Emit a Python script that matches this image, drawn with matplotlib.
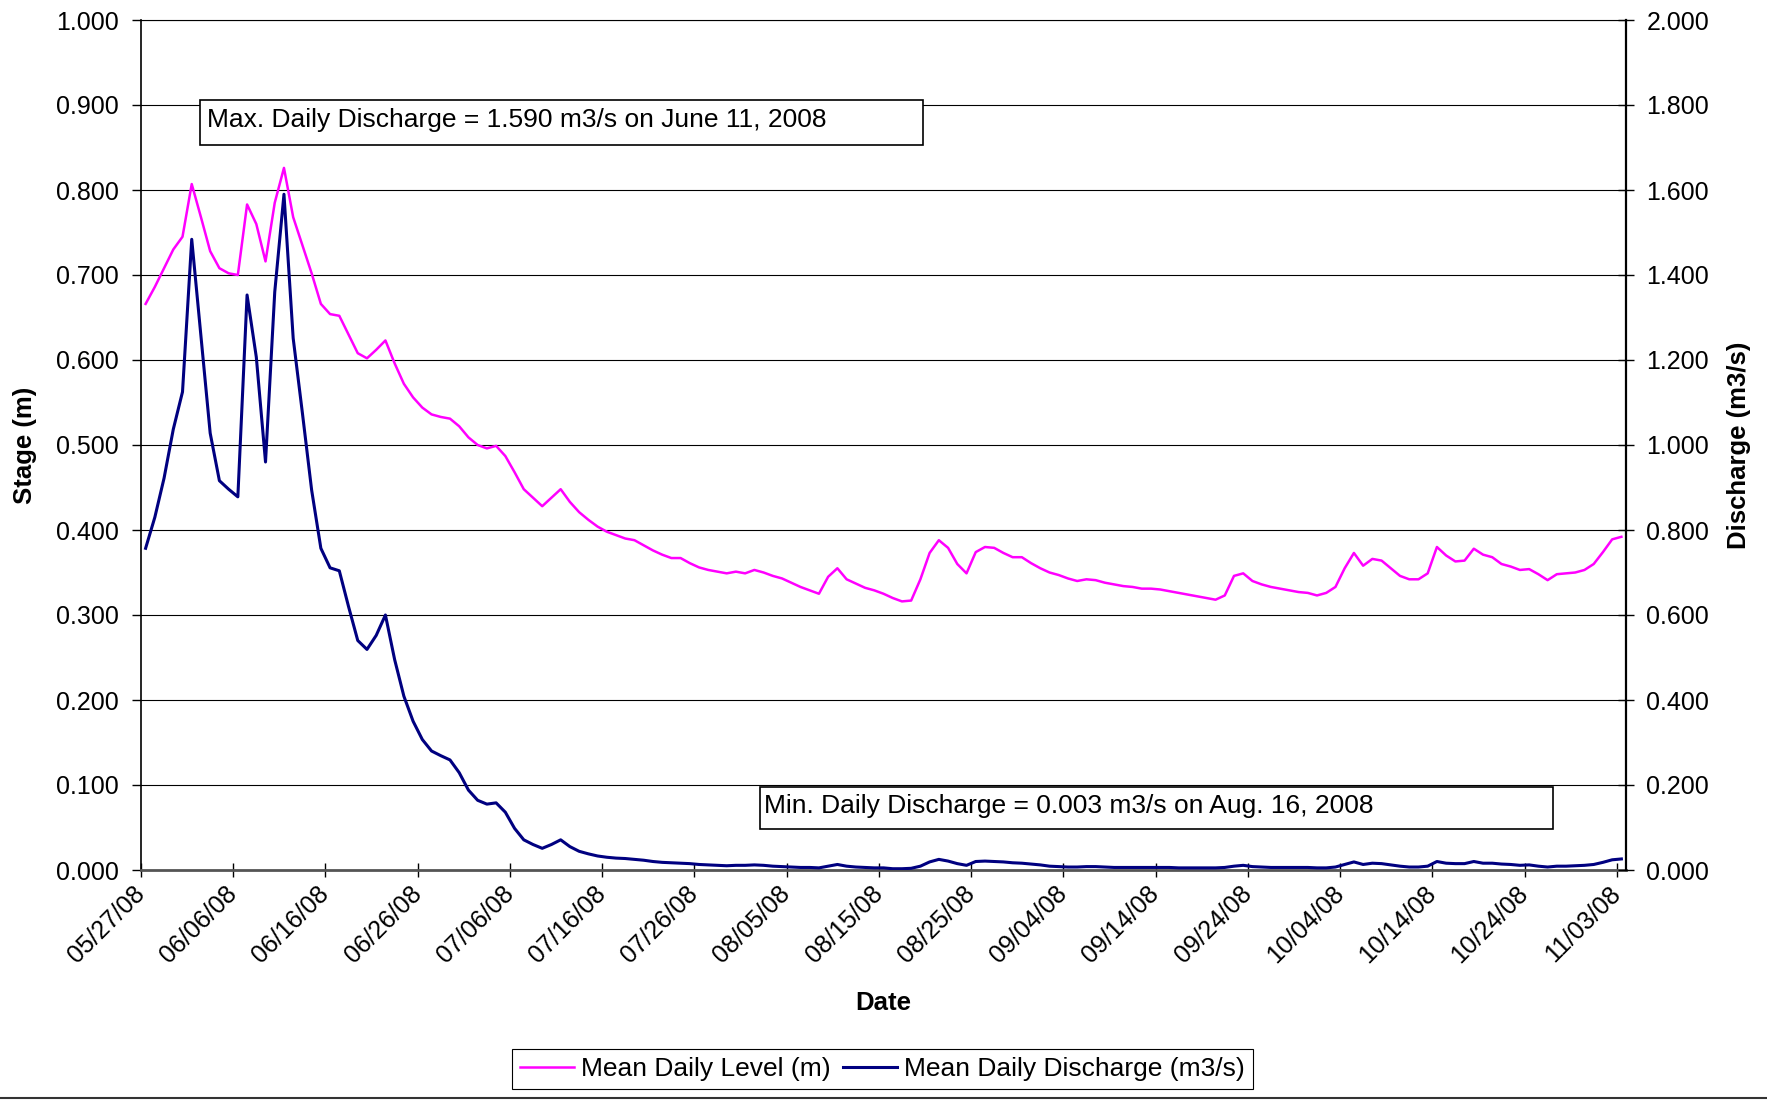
import numpy as np
import pandas as pd
import matplotlib
matplotlib.use("Agg")
import matplotlib.pyplot as plt
import matplotlib.dates as mdates
from matplotlib.ticker import FormatStrFormatter
from matplotlib.patches import Rectangle
from matplotlib.lines import Line2D

# ── style ──────────────────────────────────────────────────────────────────────
plt.rcParams.update({
    "font.family": ["Liberation Sans", "DejaVu Sans"],
    "font.size": 18,
    "xtick.labelsize": 18,
    "ytick.labelsize": 18,
})

LEVEL_COLOR = "#FF00FF"
FLOW_COLOR = "#000080"
W, H = 1767, 1100

# ── data (daily means, 2008-05-27 .. 2008-11-03) ──────────────────────────────
start_date = "2008-05-27"

stage_m = [
    0.666, 0.686, 0.708, 0.730, 0.745, 0.807, 0.768, 0.728, 0.708, 0.702,
    0.700, 0.783, 0.760, 0.716, 0.785, 0.826, 0.768, 0.735, 0.702, 0.666,
    0.654, 0.652, 0.630, 0.608, 0.602, 0.612, 0.623, 0.596, 0.572, 0.556,
    0.544, 0.536, 0.533, 0.531, 0.522, 0.509, 0.500, 0.496, 0.499, 0.487,
    0.468, 0.448, 0.438, 0.428, 0.438, 0.448, 0.433, 0.421, 0.412, 0.404,
    0.398, 0.394, 0.390, 0.388, 0.382, 0.376, 0.371, 0.367, 0.367, 0.361,
    0.356, 0.353, 0.351, 0.349, 0.351, 0.349, 0.353, 0.350, 0.346, 0.343,
    0.338, 0.333, 0.329, 0.325, 0.345, 0.355, 0.342, 0.337, 0.332, 0.329,
    0.325, 0.320, 0.316, 0.317, 0.342, 0.373, 0.388, 0.379, 0.360, 0.349,
    0.374, 0.380, 0.379, 0.373, 0.368, 0.368, 0.361, 0.355, 0.350, 0.347,
    0.343, 0.340, 0.342, 0.341, 0.338, 0.336, 0.334, 0.333, 0.331, 0.331,
    0.330, 0.328, 0.326, 0.324, 0.322, 0.320, 0.318, 0.323, 0.346, 0.349,
    0.340, 0.336, 0.333, 0.331, 0.329, 0.327, 0.326, 0.323, 0.326, 0.333,
    0.355, 0.373, 0.358, 0.366, 0.364, 0.355, 0.346, 0.342, 0.342, 0.349,
    0.380, 0.370, 0.363, 0.364, 0.378, 0.371, 0.368, 0.360, 0.357, 0.353,
    0.354, 0.348, 0.341, 0.348, 0.349, 0.350, 0.353, 0.360, 0.374, 0.389,
    0.392,
]

discharge_cms = [
    0.757, 0.830, 0.922, 1.037, 1.125, 1.484, 1.256, 1.028, 0.916, 0.896,
    0.878, 1.353, 1.207, 0.960, 1.360, 1.590, 1.251, 1.075, 0.894, 0.757,
    0.711, 0.704, 0.620, 0.540, 0.519, 0.552, 0.600, 0.495, 0.409, 0.350,
    0.307, 0.280, 0.269, 0.259, 0.229, 0.188, 0.164, 0.155, 0.158, 0.136,
    0.098, 0.071, 0.060, 0.051, 0.060, 0.071, 0.055, 0.044, 0.038, 0.033,
    0.030, 0.028, 0.027, 0.025, 0.023, 0.020, 0.018, 0.017, 0.016, 0.015,
    0.013, 0.012, 0.011, 0.010, 0.011, 0.011, 0.012, 0.011, 0.009, 0.008,
    0.007, 0.006, 0.006, 0.005, 0.009, 0.013, 0.009, 0.007, 0.006, 0.005,
    0.005, 0.003, 0.003, 0.004, 0.009, 0.019, 0.025, 0.021, 0.015, 0.011,
    0.020, 0.021, 0.020, 0.019, 0.017, 0.016, 0.014, 0.012, 0.009, 0.008,
    0.007, 0.007, 0.008, 0.008, 0.007, 0.006, 0.006, 0.006, 0.006, 0.006,
    0.006, 0.006, 0.005, 0.005, 0.005, 0.005, 0.005, 0.006, 0.009, 0.011,
    0.008, 0.007, 0.006, 0.006, 0.006, 0.006, 0.006, 0.005, 0.005, 0.007,
    0.013, 0.019, 0.013, 0.016, 0.015, 0.012, 0.009, 0.007, 0.007, 0.009,
    0.020, 0.016, 0.015, 0.015, 0.020, 0.016, 0.016, 0.014, 0.013, 0.011,
    0.012, 0.009, 0.007, 0.009, 0.009, 0.010, 0.011, 0.013, 0.018, 0.024,
    0.026,
]

tick_dates = pd.date_range("2008-05-27", "2008-11-03", freq="10D")
stage_ticks = np.linspace(0.0, 1.0, 11)
discharge_ticks = np.linspace(0.0, 2.0, 11)

max_note = "Max. Daily Discharge = 1.590 m3/s on June 11, 2008"
min_note = "Min. Daily Discharge = 0.003 m3/s on Aug. 16, 2008"

# daily means plotted at mid-day
days = pd.date_range(start_date, periods=len(stage_m), freq="D") + pd.Timedelta(hours=12)

# ── figure ─────────────────────────────────────────────────────────────────────
fig = plt.figure(figsize=(W / 100, H / 100), dpi=100)
ax = fig.add_axes([141 / W, 1 - 870 / H, 1485 / W, 850 / H])

l1, = ax.plot(days, stage_m, color=LEVEL_COLOR, linewidth=1.8, label="Mean Daily Level (m)")
ax2 = ax.twinx()
l2, = ax2.plot(days, discharge_cms, color=FLOW_COLOR, linewidth=2.2, label="Mean Daily Discharge (m3/s)")

ax.set_xlim(pd.Timestamp("2008-05-27"), pd.Timestamp("2008-11-04"))
ax.set_ylim(0, 1)
ax2.set_ylim(0, 2)

ax.set_yticks(stage_ticks)
ax.yaxis.set_major_formatter(FormatStrFormatter("%.3f"))
ax2.set_yticks(discharge_ticks)
ax2.yaxis.set_major_formatter(FormatStrFormatter("%.3f"))

ax.set_xticks(tick_dates)
ax.xaxis.set_major_formatter(mdates.DateFormatter("%m/%d/%y"))
for lab in ax.get_xticklabels():
    lab.set_rotation(45)
    lab.set_ha("right")
    lab.set_va("center")
    lab.set_rotation_mode("anchor")

ax.yaxis.grid(True, color="black", linewidth=0.8)
ax.set_axisbelow(True)

ax.tick_params(axis="y", direction="out", length=6.5, width=1, pad=9.5)
ax.tick_params(axis="x", direction="inout", length=10, width=1, pad=9.5)
ax2.tick_params(axis="y", direction="inout", length=11.5, width=1, pad=9)

ax.spines["left"].set_linewidth(1.2)
ax.spines["bottom"].set_linewidth(2.0)
ax.spines["bottom"].set_color("#555555")
ax.spines["top"].set_linewidth(0.8)
ax.spines["right"].set_visible(False)
for s in ["left", "bottom", "top"]:
    ax2.spines[s].set_visible(False)
ax2.spines["right"].set_linewidth(1.6)

# ── axis titles ────────────────────────────────────────────────────────────────
fig.text(25 / W, 1 - 445 / H, "Stage (m)", rotation=90, ha="center", va="center",
         fontweight="bold", fontsize=18.5)
fig.text(1739 / W, 1 - 445 / H, "Discharge (m3/s)", rotation=90, ha="center", va="center",
         fontweight="bold", fontsize=18.5)
fig.text(883 / W, 1 - 1003 / H, "Date", ha="center", va="center",
         fontweight="bold", fontsize=18.5)

# ── note boxes ─────────────────────────────────────────────────────────────────
ax2.add_patch(Rectangle((0.0394, 0.8535), 0.4869, 0.0518, transform=ax.transAxes,
                        facecolor="white", edgecolor="black", linewidth=1.2, zorder=5))
ax2.text(0.0442, 0.8745, max_note, transform=ax.transAxes, ha="left", va="baseline",
         fontsize=19, zorder=6)
ax2.add_patch(Rectangle((0.4168, 0.0482), 0.5340, 0.0500, transform=ax.transAxes,
                        facecolor="white", edgecolor="black", linewidth=1.2, zorder=5))
ax2.text(0.4195, 0.0665, min_note, transform=ax.transAxes, ha="left", va="baseline",
         fontsize=19, zorder=6)

# ── legend ─────────────────────────────────────────────────────────────────────
leg = fig.legend(handles=[l1, l2], loc="center", bbox_to_anchor=(882.5 / W, 1 - 1069 / H),
                 ncol=2, fontsize=19, frameon=True, fancybox=False, framealpha=1,
                 edgecolor="black", handlelength=2.05, handletextpad=0.27,
                 columnspacing=0.47, borderpad=0.3, borderaxespad=0)
leg.get_frame().set_linewidth(0.8)

fig.add_artist(Line2D([0, 1], [1 - 1097.5 / H] * 2, transform=fig.transFigure,
                      color="#333333", linewidth=1.5))

plt.savefig("out.png", dpi=100)
plt.close()
